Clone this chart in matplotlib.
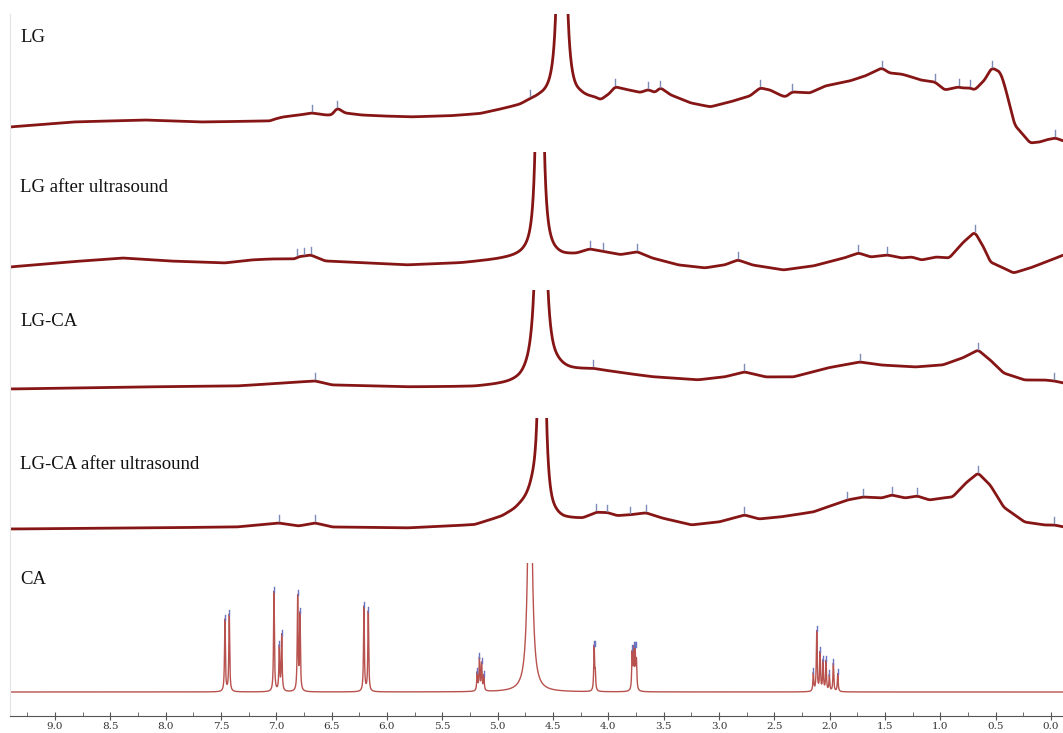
import numpy as np
import matplotlib.pyplot as plt

# ---- data (ppm, intensity in arbitrary units) ----
labels = ['LG', 'LG after ultrasound', 'LG-CA', 'LG-CA after ultrasound', 'CA']

# LG
lg_ppm = [9.50, 9.41, 8.84, 8.19, 7.69, 7.06, 7.01, 6.94, 6.79, 6.68, 6.56, 6.50, 6.45, 6.38,
          6.24, 6.06, 5.79, 5.43, 5.16, 4.98, 4.80, 4.71, 4.62, 4.30, 4.26, 4.12, 4.07,
          3.99, 3.94, 3.85, 3.71, 3.64, 3.58, 3.53, 3.44, 3.26, 3.08, 2.90, 2.72, 2.63,
          2.54, 2.45, 2.40, 2.34, 2.18, 2.04, 1.82, 1.68, 1.53, 1.46, 1.36, 1.32, 1.18,
          1.05, 0.96, 0.84, 0.80, 0.73, 0.69, 0.60, 0.55, 0.53, 0.46, 0.42, 0.37, 0.33,
          0.25, 0.19, 0.10, 0.05, -0.04, -0.11]
lg_int = [24, 25, 30, 32, 30, 31, 33, 35, 37, 39, 37, 37, 44, 39,
          37, 36, 35, 36, 38, 42, 46, 50, 52, 50, 52, 52, 50,
          57, 64, 62, 59, 62, 59, 64, 57, 49, 45, 50, 56, 64,
          62, 57, 55, 60, 59, 66, 71, 76, 84, 79, 78, 77, 72,
          70, 62, 65, 64, 64, 62, 72, 82, 84, 80, 67, 45, 27,
          17, 9, 10, 12, 14, 11]
lg_water = (4.42, 2000, 0.012)
lg_marks = [6.68, 6.45, 4.71, 3.94, 3.64, 3.53, 2.63, 2.34, 1.53, 1.05, 0.83, 0.73, 0.53, -0.04]

# LG after ultrasound
lgu_ppm = [9.50, 9.41, 8.88, 8.39, 7.97, 7.47, 7.23, 7.05, 6.83, 6.81, 6.75, 6.69, 6.56,
           6.19, 5.82, 5.33, 5.02, 4.84, 4.75, 4.50, 4.41, 4.29, 4.17, 4.05, 3.89, 3.74,
           3.61, 3.37, 3.13, 2.95, 2.83, 2.70, 2.42, 2.15, 1.87, 1.74, 1.63, 1.48, 1.35,
           1.26, 1.17, 1.04, 0.92, 0.80, 0.69, 0.61, 0.55, 0.43, 0.34, 0.19, 0.00, -0.11]
lgu_int = [22, 23, 28, 32, 29, 27, 30, 31, 31, 33, 34, 35, 29,
           27, 25, 27, 30, 32, 33, 33, 33, 35, 40, 38, 35, 38,
           32, 25, 22, 25, 30, 25, 20, 24, 32, 37, 33, 35, 32,
           33, 30, 33, 32, 47, 58, 43, 28, 22, 17, 22, 30, 35]
lgu_water = (4.62, 1000, 0.015)
lgu_marks = [6.81, 6.75, 6.69, 4.17, 4.05, 3.74, 2.83, 1.74, 1.48, 0.69]

# LG-CA
lgca_ppm = [9.50, 9.41, 8.27, 7.36, 6.92, 6.65, 6.50, 5.82, 5.21, 4.90, 4.80, 4.45, 4.35,
            4.14, 3.98, 3.61, 3.19, 2.95, 2.77, 2.58, 2.33, 2.02, 1.73, 1.54, 1.23, 0.98,
            0.80, 0.66, 0.55, 0.43, 0.24, 0.06, -0.03, -0.11]
lgca_int = [29, 29, 31, 32, 35, 37, 33, 31, 31, 33, 34, 46, 46,
            48, 46, 41, 38, 41, 46, 41, 41, 50, 56, 53, 51, 53,
            60, 68, 58, 45, 38, 38, 37, 35]
lgca_water = (4.61, 1000, 0.02)
lgca_marks = [6.65, 4.14, 2.77, 1.73, 0.66, -0.03]

# LG-CA after ultrasound
lgcau_ppm = [9.50, 9.41, 8.27, 7.36, 6.98, 6.80, 6.65, 6.50, 5.82, 5.21, 4.96, 4.85, 4.75,
             4.68, 4.52, 4.41, 4.23, 4.11, 4.01, 3.92, 3.80, 3.66, 3.52, 3.25, 3.00, 2.77,
             2.64, 2.45, 2.15, 1.84, 1.70, 1.53, 1.44, 1.32, 1.21, 1.10, 0.98, 0.89, 0.77,
             0.66, 0.55, 0.43, 0.24, 0.06, -0.03, -0.11]
lgcau_int = [34, 34, 35, 36, 40, 37, 40, 36, 35, 38, 46, 52, 60,
             68, 45, 43, 44, 50, 50, 47, 48, 50, 45, 38, 41, 48,
             44, 46, 51, 63, 66, 65, 68, 65, 67, 63, 65, 66, 80,
             90, 78, 56, 41, 38, 38, 36]
lgcau_water = (4.60, 1500, 0.011)
lgcau_marks = [6.98, 6.65, 4.11, 4.01, 3.80, 3.66, 2.77, 1.84, 1.70, 1.44, 1.21, 0.66, -0.03]

# CA (sharp lines: centre ppm, height)
ca_baseline = 24
ca_centers = [7.464, 7.425, 7.021, 6.973, 6.951, 6.807, 6.786, 6.208, 6.169,
              5.185, 5.165, 5.145, 5.125, 4.128, 4.118, 3.785, 3.772, 3.758, 3.746,
              2.148, 2.117, 2.087, 2.060, 2.033, 2.003, 1.967, 1.927]
ca_heights = [72, 77, 100, 44, 56, 94, 76, 85, 80,
              18, 32, 27, 15, 44, 16, 36, 38, 38, 28,
              18, 60, 38, 30, 30, 16, 28, 18]
ca_water = (4.708, 311, 0.019)

tick_vals = [9.0, 8.5, 8.0, 7.5, 7.0, 6.5, 6.0, 5.5, 5.0, 4.5, 4.0, 3.5, 3.0, 2.5, 2.0, 1.5, 1.0, 0.5, 0.0]
minor_vals = [9.25, 8.75, 8.25, 7.75, 7.25, 6.75, 6.25, 5.75, 5.25, 4.75, 4.25, 3.75, 3.25,
              2.75, 2.25, 1.75, 1.25, 0.75, 0.25]


def lorentz(x, c, h, g):
    return h * g ** 2 / ((x - c) ** 2 + g ** 2)


def smooth(y, n):
    k = np.ones(n) / n
    pad = np.concatenate([np.full(n, y[0]), y, np.full(n, y[-1])])
    return np.convolve(pad, k, mode='same')[n:-n]


x = np.linspace(9.5, -0.15, 19301)


def broad(p, v, water):
    base = smooth(np.interp(x, p[::-1], v[::-1]), 90)
    return base + lorentz(x, *water)


spectra = [
    broad(lg_ppm, lg_int, lg_water),
    broad(lgu_ppm, lgu_int, lgu_water),
    broad(lgca_ppm, lgca_int, lgca_water),
    broad(lgcau_ppm, lgcau_int, lgcau_water),
]
ca = np.full_like(x, ca_baseline, dtype=float) + lorentz(x, *ca_water)
for c, h in zip(ca_centers, ca_heights):
    ca += lorentz(x, c, h, 0.0045)
spectra.append(ca)
marks = [lg_marks, lgu_marks, lgca_marks, lgcau_marks, ca_centers]

# ---- layout (pixel bands of the 1063x733 figure) ----
W, H = 1063, 733
bands = [(14, 152), (152, 290), (290, 418), (418, 563), (563, 716)]
label_y = [38, 187, 322, 465, 580]

fig = plt.figure(figsize=(W / 100, H / 100), dpi=100)
trace_color = '#861616'
ca_color = '#b8524e'
mark_color = '#7d8db5'

axes = []
for i, (top, bot) in enumerate(bands):
    ax = fig.add_axes([10 / W, (H - bot) / H, 1053 / W, (bot - top) / H])
    for s in ['top', 'right', 'bottom']:
        ax.spines[s].set_visible(False)
    ax.spines['left'].set_color('#e4e4e4')
    ax.set_yticks([])
    y = spectra[i]
    if i == 4:
        ax.plot(x, y, color=ca_color, lw=1.0)
    else:
        ax.plot(x, y, color=trace_color, lw=2.0, solid_joinstyle='round')
    # peak-pick markers
    for m in marks[i]:
        sel = np.abs(x - m) < 0.012
        yv = y[sel].max()
        if i == 4:
            ax.plot([m, m], [yv - 1, yv + 4], color='#6a74c0', lw=1.0, clip_on=False)
        else:
            ax.plot([m, m], [yv + 2, yv + 8], color=mark_color, lw=1.0)
    if i < 4:
        ax.set_xticks([])
    axes.append(ax)
    fig.text(20 / W, 1 - label_y[i] / H, labels[i], fontsize=13.5,
             family='Liberation Serif', va='center', ha='left', color='#111111')

ax = axes[-1]
ax.spines['bottom'].set_visible(True)
ax.spines['bottom'].set_color('#555555')
ax.set_xticks(tick_vals)
ax.set_xticklabels([f'{t:.1f}' for t in tick_vals], family='DejaVu Serif', fontsize=7.5, color='#333333')
ax.set_xticks(minor_vals, minor=True)
ax.tick_params(axis='x', which='major', direction='inout', length=6, color='#555555', pad=1)
ax.tick_params(axis='x', which='minor', direction='in', length=3, color='#555555')

for i, (top, bot) in enumerate(bands):
    axes[i].set_xlim(9.406, -0.108)
    axes[i].set_ylim(0, bot - top)

fig.savefig('out.png', dpi=100)
